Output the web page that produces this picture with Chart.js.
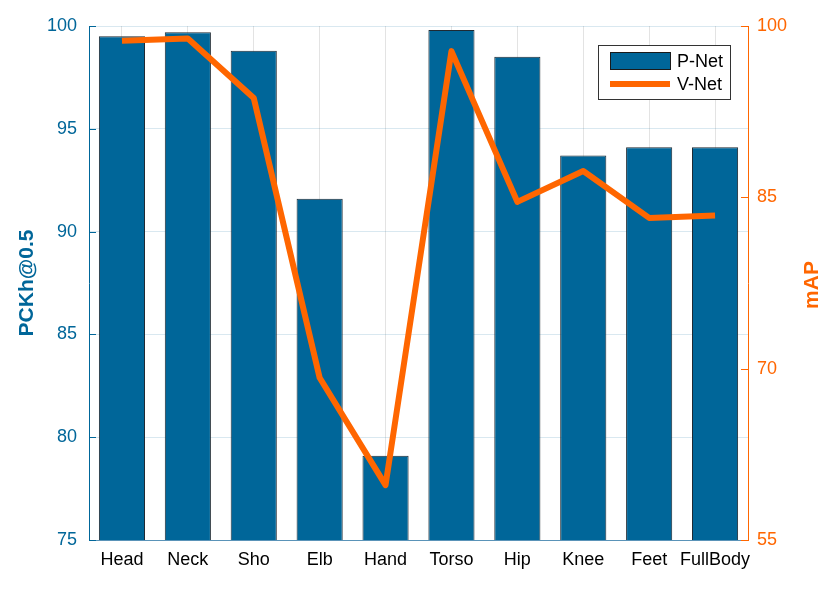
<!DOCTYPE html>
<html>
<head>
<meta charset="utf-8">
<script src="https://cdn.jsdelivr.net/npm/chart.js@4/dist/chart.umd.min.js"></script>
<style>
html,body{margin:0;padding:0;background:#fff;}
#wrap{width:831px;height:590px;}
</style>
</head>
<body>
<div id="wrap"><canvas id="c" width="831" height="590"></canvas></div>
<script>
const categories = ['Head','Neck','Sho','Elb','Hand','Torso','Hip','Knee','Feet','FullBody'];
const pnetValues = [99.5, 99.7, 98.8, 91.6, 79.1, 99.8, 98.5, 93.7, 94.1, 94.1];
const vnetValues = [98.7, 98.9, 93.7, 69.2, 59.8, 97.8, 84.6, 87.3, 83.2, 83.4];
const leftTicks = [75, 80, 85, 90, 95, 100];
const rightTicks = [55, 70, 85, 100];
const seriesNames = ['P-Net', 'V-Net'];
const axisTitles = ['PCKh@0.5', 'mAP'];

const BLUE = '#006699';
const ORANGE = '#FF6600';
const FONT = 'Liberation Sans, Arial, Helvetica, sans-serif';
Chart.defaults.font.family = FONT;

const decor = {
  id: 'decor',
  beforeDatasetsDraw(chart) {
    const ctx = chart.ctx, a = chart.chartArea;
    const yl = chart.scales.y, yr = chart.scales.y2;
    ctx.save();
    ctx.lineWidth = 1;
    ctx.strokeStyle = BLUE;
    leftTicks.forEach(v => {
      const y = Math.round(yl.getPixelForValue(v)) + 0.5;
      ctx.beginPath(); ctx.moveTo(a.left, y); ctx.lineTo(a.left + 7, y); ctx.stroke();
    });
    ctx.strokeStyle = ORANGE;
    rightTicks.forEach(v => {
      const y = Math.round(yr.getPixelForValue(v)) + 0.5;
      ctx.beginPath(); ctx.moveTo(a.right, y); ctx.lineTo(a.right - 7, y); ctx.stroke();
    });
    ctx.restore();
  },
  afterDraw(chart) {
    const ctx = chart.ctx, a = chart.chartArea;
    ctx.save();
    // axis titles
    ctx.font = 'bold 21px ' + FONT;
    ctx.textAlign = 'center';
    ctx.textBaseline = 'middle';
    ctx.fillStyle = BLUE;
    ctx.translate(27, (a.top + a.bottom) / 2);
    ctx.rotate(-Math.PI / 2);
    ctx.fillText(axisTitles[0], 0, 0);
    ctx.restore();
    ctx.save();
    ctx.font = 'bold 21px ' + FONT;
    ctx.textAlign = 'center';
    ctx.textBaseline = 'middle';
    ctx.fillStyle = ORANGE;
    ctx.translate(812, (a.top + a.bottom) / 2 + 2);
    ctx.rotate(-Math.PI / 2);
    ctx.fillText(axisTitles[1], 0, 0);
    ctx.restore();
    // legend
    ctx.save();
    const lx = 598.5, ly = 45.5, lw = 132, lh = 54;
    ctx.fillStyle = '#fff';
    ctx.fillRect(lx, ly, lw, lh);
    ctx.strokeStyle = '#333';
    ctx.lineWidth = 1;
    ctx.strokeRect(lx, ly, lw, lh);
    ctx.fillStyle = BLUE;
    ctx.fillRect(610.5, 52.5, 60, 17);
    ctx.strokeStyle = '#1a1a1a';
    ctx.strokeRect(610.5, 52.5, 60, 17);
    ctx.strokeStyle = ORANGE;
    ctx.lineWidth = 6;
    ctx.beginPath(); ctx.moveTo(610, 84); ctx.lineTo(670, 84); ctx.stroke();
    ctx.fillStyle = '#000';
    ctx.font = '18px ' + FONT;
    ctx.textAlign = 'left';
    ctx.textBaseline = 'middle';
    ctx.fillText(seriesNames[0], 677, 62);
    ctx.fillText(seriesNames[1], 677, 85);
    ctx.restore();
  }
};

new Chart(document.getElementById('c'), {
  data: {
    labels: categories,
    datasets: [
      {
        type: 'line', label: seriesNames[1], data: vnetValues, yAxisID: 'y2', order: 0,
        borderColor: ORANGE, borderWidth: 6, pointRadius: 0, tension: 0,
        borderJoinStyle: 'round', borderCapStyle: 'butt', fill: false
      },
      {
        type: 'bar', label: seriesNames[0], data: pnetValues, yAxisID: 'y', order: 1,
        backgroundColor: BLUE, borderColor: '#1f2a33', borderWidth: 1,
        barPercentage: 0.7, categoryPercentage: 1.0, borderSkipped: false
      }
    ]
  },
  options: {
    responsive: false,
    animation: false,
    layout: { padding: { top: 26, left: 0, right: 0, bottom: 0 } },
    plugins: { legend: { display: false }, tooltip: { enabled: false }, title: { display: false } },
    scales: {
      x: {
        type: 'category',
        offset: true,
        grid: { offset: false, color: 'rgba(0,0,0,0.11)', drawTicks: false, lineWidth: 1 },
        border: { display: true, color: '#5a93b8', width: 1 },
        ticks: { color: '#000', font: { size: 18 }, padding: 9, maxRotation: 0, autoSkip: false },
        afterFit(s) { s.height = 50; }
      },
      y: {
        position: 'left', min: 75, max: 100,
        afterBuildTicks(s) { s.ticks = leftTicks.map(v => ({ value: v })); },
        grid: { color: 'rgba(0,102,153,0.15)', drawTicks: false },
        border: { display: true, color: BLUE, width: 1 },
        ticks: { color: BLUE, font: { size: 18 }, padding: 12 },
        afterFit(s) { s.width = 89; }
      },
      y2: {
        position: 'right', min: 55, max: 100,
        afterBuildTicks(s) { s.ticks = rightTicks.map(v => ({ value: v })); },
        grid: { display: false, drawTicks: false },
        border: { display: true, color: ORANGE, width: 1 },
        ticks: { color: ORANGE, font: { size: 18 }, padding: 9 },
        afterFit(s) { s.width = 83; }
      }
    }
  },
  plugins: [decor]
});
</script>
</body>
</html>
